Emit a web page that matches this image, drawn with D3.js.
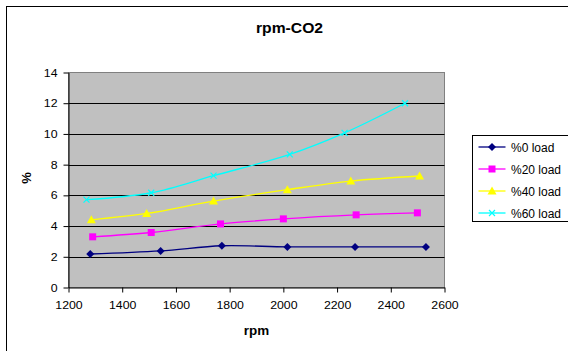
<!DOCTYPE html>
<html>
<head>
<meta charset="utf-8">
<script src="https://cdn.jsdelivr.net/npm/d3@7"></script>
<style>
  body { margin: 0; background: #fff; }
  svg { display: block; font-family: "Liberation Sans", Arial, sans-serif; }
</style>
</head>
<body>
<div id="chart"></div>
<script>
// rpm vs CO2 chart

const seriesNames = ['%0 load', '%20 load', '%40 load', '%60 load'];
const seriesColors = ['#000080', '#ff00ff', '#ffff00', '#00ffff'];
const seriesMarkers = ['diamond', 'square', 'triangle', 'cross'];

const rpm0 = [1281, 1543, 1771, 2015, 2267, 2531];
const co2_0 = [2.18, 2.38, 2.72, 2.64, 2.64, 2.64];

const rpm20 = [1290, 1508, 1766, 2000, 2271, 2499];
const co2_20 = [3.30, 3.58, 4.14, 4.47, 4.73, 4.86];

const rpm40 = [1285, 1491, 1740, 2015, 2251, 2507];
const co2_40 = [4.41, 4.82, 5.63, 6.37, 6.93, 7.26];

const rpm60 = [1267, 1508, 1740, 2024, 2228, 2453];
const co2_60 = [5.72, 6.17, 7.28, 8.67, 10.07, 12.0];

const xTicks = [1200, 1400, 1600, 1800, 2000, 2200, 2400, 2600];
const yTicks = [0, 2, 4, 6, 8, 10, 12, 14];

const series = [
    { xs: rpm0, ys: co2_0 },
    { xs: rpm20, ys: co2_20 },
    { xs: rpm40, ys: co2_40 },
    { xs: rpm60, ys: co2_60 }
].map((s, i) => ({
    name: seriesNames[i],
    color: seriesColors[i],
    marker: seriesMarkers[i],
    points: s.xs.map((x, j) => ({ x: x, y: s.ys[j] }))
}));

const W = 568, H = 351;
const plot = { left: 68.5, right: 444.5, top: 72.5, bottom: 287.5 };
const stretch = 1.12; // text in the source picture is a bit wider than it is tall

const svg = d3.select('#chart').append('svg')
    .attr('width', W)
    .attr('height', H);

// outer chart frame (runs off the right and bottom edges)
svg.append('rect')
    .attr('x', 6.5).attr('y', 6.5)
    .attr('width', W + 10).attr('height', H + 10)
    .attr('fill', '#fff')
    .attr('stroke', '#000')
    .attr('stroke-width', 1);

const xScale = d3.scaleLinear().domain([1200, 2600]).range([plot.left, plot.right]);
const yScale = d3.scaleLinear().domain([0, 14]).range([plot.bottom, plot.top]);

// plot area
svg.append('rect')
    .attr('x', plot.left).attr('y', plot.top)
    .attr('width', plot.right - plot.left)
    .attr('height', plot.bottom - plot.top)
    .attr('fill', '#c0c0c0')
    .attr('stroke', '#808080')
    .attr('stroke-width', 1);

// gridlines
svg.append('g')
    .selectAll('line')
    .data(yTicks.filter(d => d > 0 && d < 14))
    .join('line')
    .attr('x1', plot.left).attr('x2', plot.right)
    .attr('y1', d => Math.round(yScale(d)) + 0.5)
    .attr('y2', d => Math.round(yScale(d)) + 0.5)
    .attr('stroke', '#000')
    .attr('stroke-width', 1);

// axes
const xAxis = d3.axisBottom(xScale).tickValues(xTicks).tickFormat(d3.format('d'))
    .tickSizeInner(5).tickSizeOuter(0).tickPadding(8.5);
const yAxis = d3.axisLeft(yScale).tickValues(yTicks)
    .tickSizeInner(5).tickSizeOuter(0).tickPadding(6);

const gx = svg.append('g')
    .attr('transform', `translate(0, ${plot.bottom})`)
    .call(xAxis);
const gy = svg.append('g')
    .attr('transform', `translate(${plot.left}, 0)`)
    .call(yAxis);

[gx, gy].forEach(g => {
    g.selectAll('path, line').attr('stroke', '#000');
    g.selectAll('text')
        .style('font-size', '11px')
        .style('fill', '#000')
        .style('font-family', '"Liberation Sans", Arial, sans-serif')
        .attr('x', function() { return (+this.getAttribute('x') || 0) / stretch; })
        .attr('transform', `scale(${stretch},1)`);
});

// lines
const line = d3.line()
    .x(d => xScale(d.x))
    .y(d => yScale(d.y))
    .curve(d3.curveCatmullRom.alpha(0.5));

svg.append('g')
    .selectAll('path')
    .data(series)
    .join('path')
    .attr('d', d => line(d.points))
    .attr('fill', 'none')
    .attr('stroke', d => d.color)
    .attr('stroke-width', 1.3);

// markers
function drawMarker(sel, type, color) {
    if (type === 'diamond') {
        sel.append('path').attr('d', 'M0,-4L4,0L0,4L-4,0Z').attr('fill', color);
    } else if (type === 'square') {
        sel.append('rect').attr('x', -3.5).attr('y', -3.5).attr('width', 7).attr('height', 7).attr('fill', color);
    } else if (type === 'triangle') {
        sel.append('path').attr('d', 'M0,-4.5L4.5,3.5L-4.5,3.5Z').attr('fill', color);
    } else {
        sel.append('path').attr('d', 'M-3,-3L3,3M3,-3L-3,3')
            .attr('stroke', color).attr('stroke-width', 1.2).attr('fill', 'none');
    }
}

series.forEach(s => {
    s.points.forEach(p => {
        const m = svg.append('g')
            .attr('transform', `translate(${xScale(p.x)}, ${yScale(p.y)})`);
        drawMarker(m, s.marker, s.color);
    });
});

// titles
svg.append('text')
    .attr('transform', `translate(289.5, 32.5) scale(${stretch},1)`)
    .attr('text-anchor', 'middle')
    .style('font-size', '14px')
    .style('font-weight', 'bold')
    .text('rpm-CO2');

svg.append('text')
    .attr('transform', `translate(256.5, 334.5) scale(${stretch},1)`)
    .attr('text-anchor', 'middle')
    .style('font-size', '12px')
    .style('font-weight', 'bold')
    .text('rpm');

svg.append('text')
    .attr('transform', 'translate(31, 178) rotate(-90)')
    .attr('text-anchor', 'middle')
    .style('font-size', '13px')
    .style('font-weight', 'bold')
    .text('%');

// legend
const legend = svg.append('g').attr('transform', 'translate(472.5, 135.5)');
legend.append('rect')
    .attr('width', 110).attr('height', 86)
    .attr('fill', '#fff')
    .attr('stroke', '#000')
    .attr('stroke-width', 1);

series.forEach((s, i) => {
    const row = legend.append('g').attr('transform', `translate(0, ${11.5 + i * 22})`);
    row.append('line')
        .attr('x1', 6).attr('x2', 33)
        .attr('stroke', s.color).attr('stroke-width', 1.3);
    const m = row.append('g').attr('transform', 'translate(19.5, 0)');
    drawMarker(m, s.marker, s.color);
    row.append('text')
        .attr('x', 38.5).attr('y', 4.5)
        .style('font-size', '12px')
        .text(s.name);
});
</script>
</body>
</html>
